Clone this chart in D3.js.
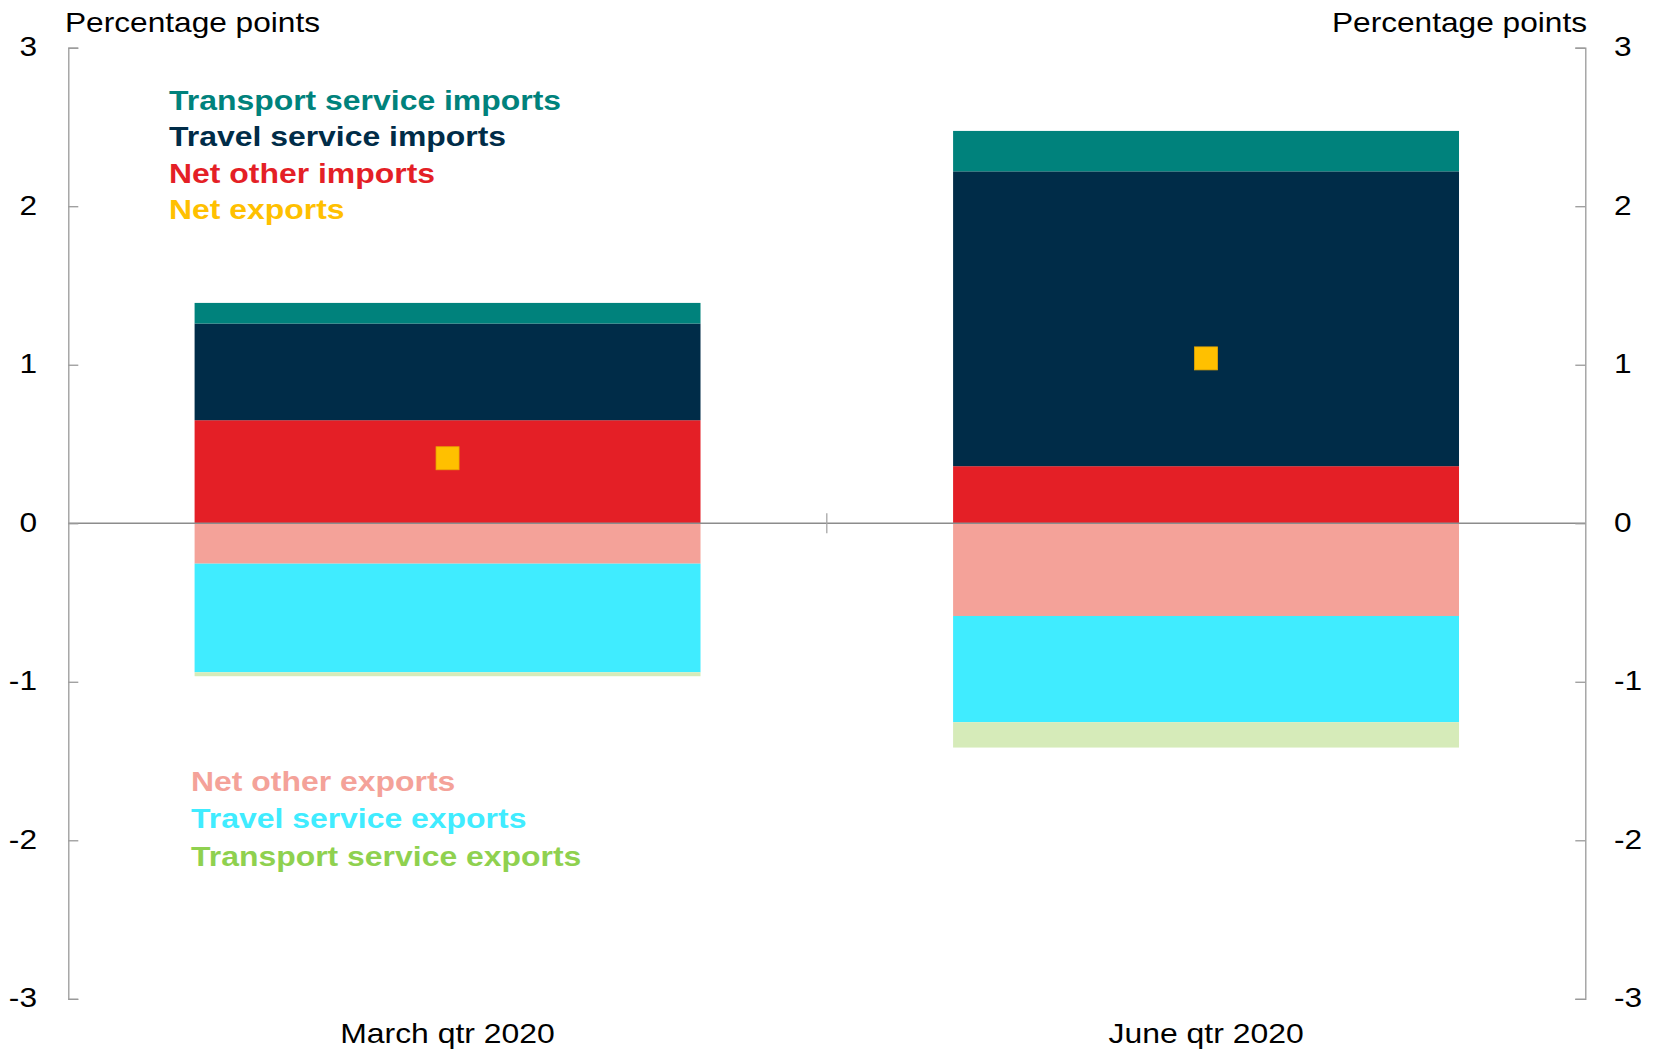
<!DOCTYPE html>
<html>
<head>
<meta charset="utf-8">
<script src="https://cdn.jsdelivr.net/npm/d3@7"></script>
<style>
  html, body { margin: 0; padding: 0; background: #fff; }
  svg { display: block; font-family: "Liberation Sans", Arial, sans-serif; }
</style>
</head>
<body>
<svg id="chart" width="1656" height="1051"></svg>
<script>
// ---- Data (percentage points) ----
const categories = ["March qtr 2020", "June qtr 2020"];
const transportServiceImports = [0.13, 0.255];
const travelServiceImports    = [0.61, 1.86];
const netOtherImports         = [0.65, 0.36];
const netOtherExports         = [-0.255, -0.585];
const travelServiceExports    = [-0.685, -0.67];
const transportServiceExports = [-0.025, -0.16];
const netExports              = [0.41, 1.04];
const yTicks = [-3, -2, -1, 0, 1, 2, 3];

const seriesKeys = ["netOtherImports", "travelServiceImports", "transportServiceImports",
                    "netOtherExports", "travelServiceExports", "transportServiceExports"];
const seriesValues = {
  netOtherImports, travelServiceImports, transportServiceImports,
  netOtherExports, travelServiceExports, transportServiceExports
};
const colors = {
  transportServiceImports: "#00827C",
  travelServiceImports: "#002C48",
  netOtherImports: "#E41F26",
  netExports: "#FFC000",
  netOtherExports: "#F4A299",
  travelServiceExports: "#40ECFF",
  transportServiceExports: "#D6EBB9"
};
const legendTop = [
  {label: "Transport service imports", color: "#00827C"},
  {label: "Travel service imports", color: "#002C48"},
  {label: "Net other imports", color: "#E41F26"},
  {label: "Net exports", color: "#FFC000"}
];
const legendBottom = [
  {label: "Net other exports", color: "#F4A299"},
  {label: "Travel service exports", color: "#40ECFF"},
  {label: "Transport service exports", color: "#8FD14F"}
];

// ---- Layout ----
const plotLeft = 68.3, plotRight = 1585.3, plotTop = 47.7, plotBottom = 998.8;
const STRETCH = 1.13, STRETCH_BOLD = 1.14;
const FS = 28;

const svg = d3.select("#chart");

const y = d3.scaleLinear().domain([-3, 3]).range([plotBottom, plotTop]);
const xLabel = d3.scaleBand().domain(categories).range([plotLeft, plotRight]);
const xBar = d3.scaleBand().domain(categories).range([plotLeft, plotRight])
  .paddingInner(0.333).paddingOuter(0.1665);

function stretchBy(f) {
  return sel => sel.each(function() {
    const len = this.getComputedTextLength();
    d3.select(this).attr("textLength", len * f).attr("lengthAdjust", "spacingAndGlyphs");
  });
}

// ---- Stacked bars ----
const table = categories.map((c, i) => {
  const row = {category: c};
  seriesKeys.forEach(k => row[k] = seriesValues[k][i]);
  return row;
});
const stack = d3.stack().keys(seriesKeys).offset(d3.stackOffsetDiverging);
const stacked = stack(table);

svg.append("g").selectAll("g")
  .data(stacked)
  .join("g")
  .attr("fill", d => colors[d.key])
  .selectAll("rect")
  .data(d => d)
  .join("rect")
  .attr("x", d => xBar(d.data.category))
  .attr("width", xBar.bandwidth())
  .attr("y", d => y(Math.max(d[0], d[1])))
  .attr("height", d => Math.abs(y(d[0]) - y(d[1])));

// ---- Zero line ----
svg.append("line")
  .attr("x1", plotLeft).attr("x2", plotRight)
  .attr("y1", y(0)).attr("y2", y(0))
  .attr("stroke", "#8c8c8c").attr("stroke-width", 1.3);

// middle category divider tick
svg.append("g").selectAll("line")
  .data(categories.slice(1))
  .join("line")
  .attr("x1", d => xLabel(d)).attr("x2", d => xLabel(d))
  .attr("y1", y(0) - 10).attr("y2", y(0) + 10)
  .attr("stroke", "#a6a6a6").attr("stroke-width", 1.3);

// ---- Net exports markers ----
svg.append("g").selectAll("rect")
  .data(categories.map((c, i) => ({c, v: netExports[i]})))
  .join("rect")
  .attr("x", d => xBar(d.c) + xBar.bandwidth() / 2 - 11.5)
  .attr("y", d => y(d.v) - 11.5)
  .attr("width", 23).attr("height", 23)
  .attr("fill", colors.netExports)
  .attr("stroke", "#E8A800").attr("stroke-width", 0.8);

// ---- Axes ----
const axisColor = "#9a9a9a";
const leftAxis = svg.append("g").attr("transform", `translate(${plotLeft},0)`)
  .call(d3.axisRight(y).tickValues(yTicks).tickSize(10).tickFormat(""));
const rightAxis = svg.append("g").attr("transform", `translate(${plotRight},0)`)
  .call(d3.axisLeft(y).tickValues(yTicks).tickSize(10).tickFormat(""));
[leftAxis, rightAxis].forEach(a => {
  a.select(".domain").attr("stroke", axisColor).attr("stroke-width", 1.3);
  a.selectAll(".tick line").attr("stroke", axisColor).attr("stroke-width", 1.3);
});

// tick labels
svg.append("g").selectAll("text")
  .data(yTicks)
  .join("text")
  .attr("x", 37).attr("y", d => y(d) - 1.5)
  .attr("dy", "0.35em")
  .attr("text-anchor", "end")
  .attr("font-size", FS).attr("fill", "#000")
  .text(d => d)
  .call(stretchBy(STRETCH));
svg.append("g").selectAll("text")
  .data(yTicks)
  .join("text")
  .attr("x", 1614).attr("y", d => y(d) - 1.5)
  .attr("dy", "0.35em")
  .attr("text-anchor", "start")
  .attr("font-size", FS).attr("fill", "#000")
  .text(d => d)
  .call(stretchBy(STRETCH));

// unit labels
svg.append("text").attr("x", 65).attr("y", 32)
  .attr("font-size", FS).attr("fill", "#000").text("Percentage points").call(stretchBy(STRETCH));
svg.append("text").attr("x", 1587).attr("y", 32).attr("text-anchor", "end")
  .attr("font-size", FS).attr("fill", "#000").text("Percentage points").call(stretchBy(STRETCH));

// category labels
svg.append("g").selectAll("text")
  .data(categories)
  .join("text")
  .attr("x", d => xLabel(d) + xLabel.bandwidth() / 2)
  .attr("y", 1043)
  .attr("text-anchor", "middle")
  .attr("font-size", FS).attr("fill", "#000")
  .text(d => d)
  .call(stretchBy(1.14));

// ---- Legends ----
svg.append("g").selectAll("text")
  .data(legendTop)
  .join("text")
  .attr("x", 169).attr("y", (d, i) => 109.5 + i * 36.6)
  .attr("font-size", FS).attr("font-weight", "bold")
  .attr("fill", d => d.color)
  .text(d => d.label)
  .call(stretchBy(STRETCH_BOLD));
svg.append("g").selectAll("text")
  .data(legendBottom)
  .join("text")
  .attr("x", 191).attr("y", (d, i) => 790.5 + i * 37.5)
  .attr("font-size", FS).attr("font-weight", "bold")
  .attr("fill", d => d.color)
  .text(d => d.label)
  .call(stretchBy(STRETCH_BOLD));
</script>
</body>
</html>
